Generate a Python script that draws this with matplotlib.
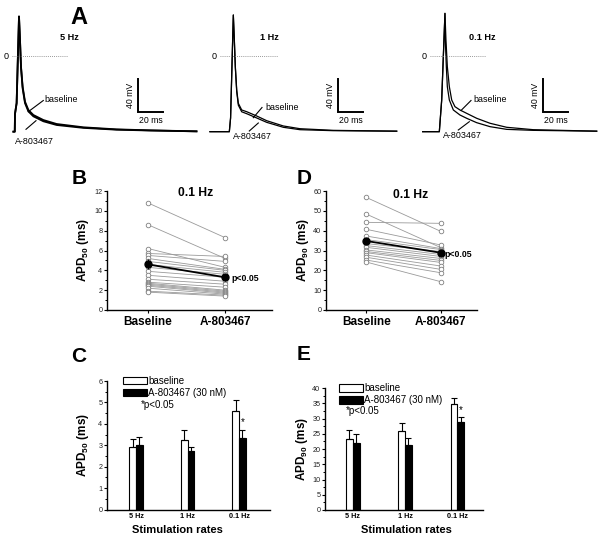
import matplotlib
matplotlib.use('Agg')
import matplotlib.pyplot as plt
from matplotlib.lines import Line2D
from matplotlib.patches import Patch
from matplotlib.ticker import MultipleLocator

plt.rcParams['font.family'] = ['Liberation Sans', 'DejaVu Sans']
plt.rcParams['mathtext.fontset'] = 'custom'
plt.rcParams['mathtext.rm'] = 'Liberation Sans'
plt.rcParams['mathtext.bf'] = 'Liberation Sans:bold'

# ---------------- data ----------------
# Panel A: action potentials (time in ms from upstroke, membrane potential in mV)
A_rates = ['5 Hz', '1 Hz', '0.1 Hz']
t5_base = [-0.5, 0.6, 0.8, 2.1, 4.0, 4.8, 5.6, 6.9, 8.8, 11.5, 15.5, 23.5, 34.1, 55.5, 82.0, 109.0, 146.0]
v5_base = [-91.6, -91.6, -70, -57, 48, 19.5, -12.8, -37, -55.2, -65.3, -71.4, -77.5, -82.3, -86.3, -88.8, -90.0, -91.2]
t5_drug = [-0.5, 0.6, 0.8, 2.1, 4.0, 4.8, 5.6, 6.9, 8.8, 11.5, 15.5, 23.5, 34.1, 55.5, 82.0, 109.0, 146.0]
v5_drug = [-91.6, -91.6, -70, -57, 48, 19.5, -13.5, -39, -57.0, -67.0, -73.0, -79.0, -83.5, -87.0, -89.2, -90.2, -91.2]

t1_base = [-15.5, 0, 1.0, 3.2, 4.0, 4.8, 5.9, 7.2, 9.9, 13.9, 21.9, 29.9, 43.2, 56.5, 83.2, 133.9]
v1_base = [-91.6, -91.6, -75, 49.8, 19.5, -12.8, -41, -57.2, -65.3, -67.4, -72.6, -78.3, -84.7, -88.0, -90.0, -91.0]
t1_drug = [-15.5, 0, 1.0, 3.2, 4.0, 4.8, 5.9, 7.2, 9.9, 13.9, 21.9, 29.9, 43.2, 56.5, 83.2, 133.9]
v1_drug = [-91.6, -91.6, -75, 49.8, 19.5, -13.5, -43, -59.5, -67.5, -69.8, -75.0, -80.3, -86.3, -89.2, -90.4, -91.0]

t01_base = [-13.3, 0, 1.9, 4.5, 5.3, 6.4, 8.0, 9.9, 12.5, 16.5, 21.9, 29.9, 40.5, 53.9, 75.2, 125.9]
v01_base = [-91.6, -91.6, -53, 51.8, 19.5, -12.8, -37, -53.2, -61.3, -65.3, -69.4, -75.4, -81.4, -86.3, -89.2, -91.0]
t01_drug = [-13.3, 0, 1.9, 4.5, 4.8, 5.6, 6.4, 8.0, 11.2, 16.5, 21.9, 29.9, 40.5, 53.9, 75.2, 125.9]
v01_drug = [-91.6, -91.6, -53, 51.8, 19.5, -12.8, -37, -53.2, -65.3, -71.4, -75.4, -80.7, -85.5, -88.8, -90.0, -91.0]

# Panels B / D: paired cells at 0.1 Hz
pair_groups = ['Baseline', 'A-803467']
B_base = [10.8, 8.6, 6.2, 5.7, 5.5, 5.2, 4.9, 4.6, 4.3, 3.9, 3.5, 3.1, 2.8, 2.7, 2.6, 2.5, 2.4, 2.2, 1.9, 1.8]
B_drug = [7.3, 5.2, 4.3, 5.4, 4.9, 4.1, 4.0, 3.8, 3.6, 3.3, 2.9, 2.6, 2.3, 2.0, 1.9, 1.8, 1.7, 1.6, 1.5, 1.4]
B_mean = [4.6, 3.3]
B_sem = [0.5, 0.35]

D_base = [56.8, 48.4, 44.2, 40.7, 37.3, 35.5, 33.5, 32.5, 31.6, 30.3, 29.5, 28.9, 27.7, 26.6, 25.2, 24.2]
D_drug = [39.7, 31.5, 43.7, 32.8, 31.0, 30.5, 29.5, 28.0, 27.0, 26.0, 25.0, 24.0, 22.2, 20.5, 18.8, 14.3]
D_mean = [34.8, 28.9]
D_sem = [1.7, 1.4]

# Panels C / E: bar charts
rates = ['5 Hz', '1 Hz', '0.1 Hz']
C_base = [2.94, 3.25, 4.61]
C_base_err = [0.37, 0.48, 0.50]
C_drug = [3.03, 2.72, 3.33]
C_drug_err = [0.36, 0.20, 0.40]
E_base = [23.4, 25.8, 34.75]
E_base_err = [2.8, 2.6, 2.05]
E_drug = [22.0, 21.2, 28.75]
E_drug_err = [2.9, 2.3, 1.65]
legend_labels = ['baseline', 'A-803467 (30 nM)']

# ---------------- layout helpers ----------------
W, H = 604, 541
fig = plt.figure(figsize=(W / 100, H / 100), dpi=100)


def ax_px(l, t, r, b):
    return fig.add_axes([l / W, 1 - b / H, (r - l) / W, (b - t) / H])


def ftxt(x, y, s, **kw):
    kw.setdefault('ha', 'left')
    kw.setdefault('va', 'center')
    return fig.text(x / W, 1 - y / H, s, **kw)


def fline(x1, y1, x2, y2, **kw):
    fig.add_artist(Line2D([x1 / W, x2 / W], [1 - y1 / H, 1 - y2 / H],
                          transform=fig.transFigure, color='k', lw=kw.get('lw', 0.8)))


# ---------------- Panel A ----------------
PX_PER_MS = 1.25
PX_PER_MV = 0.825
REST_MV = -92.0
REST_PX = 132.0
traces = [(t5_base, v5_base, t5_drug, v5_drug),
          (t1_base, v1_base, t1_drug, v1_drug),
          (t01_base, v01_base, t01_drug, v01_drug)]
ax_left = [0, 200, 400]
foot_px = [14.0, 229.33, 439.33]
zero_span = [(-1.6, 43.4), (-7.5, 39.0), (-7.5, 37.3)]
sbar_t = [99.5, 87.2, 83.2]
lws = [1.3, 0.9, 0.9]
for i in range(3):
    ax = ax_px(ax_left[i], 0, ax_left[i] + 200, 160)
    ax.set_xlim((ax_left[i] - foot_px[i]) / PX_PER_MS, (ax_left[i] + 200 - foot_px[i]) / PX_PER_MS)
    ax.set_ylim(REST_MV - (160 - REST_PX) / PX_PER_MV, REST_MV + REST_PX / PX_PER_MV)
    ax.axis('off')
    tb, vb, td, vd = traces[i]
    ax.plot(td, vd, color='k', lw=lws[i], solid_joinstyle='round')
    ax.plot(tb, vb, color='k', lw=lws[i], solid_joinstyle='round')
    ax.plot(zero_span[i], [0, 0], color='#777777', lw=0.6, ls=(0, (1, 1.5)))
    s = sbar_t[i]
    ax.plot([s, s, s + 20], [-27.4, -67.4, -67.4], color='k', lw=1.4, solid_joinstyle='miter')
    ax.text(zero_span[i][0] - 2.5, 0, '0', fontsize=6.5, ha='right', va='center')
    ax.text(s - 2.5, -47.4, '40 mV', fontsize=6.3, rotation=90, ha='right', va='center')
    ax.text(s + 10, -73, '20 ms', fontsize=6.3, ha='center', va='top')

ftxt(79, 17, 'A', fontsize=17, fontweight='bold', ha='center')
ftxt(69, 37, A_rates[0], fontsize=6.6, fontweight='bold', ha='center')
ftxt(269, 37, A_rates[1], fontsize=6.6, fontweight='bold', ha='center')
ftxt(482, 37, A_rates[2], fontsize=6.6, fontweight='bold', ha='center')

# trace labels + pointers
ftxt(44, 99.5, 'baseline', fontsize=6.4)
fline(43.3, 100.5, 28.3, 111.7)
ftxt(15, 141, 'A-803467', fontsize=6.4)
fline(26, 129.3, 36, 120.7)
ftxt(265, 107, 'baseline', fontsize=6.4)
fline(262, 107.5, 253.3, 117.7)
ftxt(233, 136.5, 'A-803467', fontsize=6.4)
fline(249.3, 131, 258.3, 123)
ftxt(473, 99.5, 'baseline', fontsize=6.4)
fline(471, 100.5, 461, 110.5)
ftxt(443, 135.5, 'A-803467', fontsize=6.4)
fline(458.3, 130, 469.3, 121.7)


# ---------------- Panels B / D ----------------
def style_axis(ax, major, minor):
    for sp in ['top', 'right']:
        ax.spines[sp].set_visible(False)
    for sp in ['left', 'bottom']:
        ax.spines[sp].set_linewidth(1.0)
    ax.yaxis.set_major_locator(MultipleLocator(major))
    ax.yaxis.set_minor_locator(MultipleLocator(minor))
    ax.tick_params(axis='y', which='major', length=2.2, width=0.8, pad=1.2, labelsize=5.2, labelcolor='#222222')
    ax.tick_params(axis='y', which='minor', length=1.2, width=0.7)


def paired(ax, base, drug, mean, sem, ymax, major, minor):
    for b, d in zip(base, drug):
        ax.plot([0, 1], [b, d], color='#9a9a9a', lw=0.6, zorder=1)
    ax.plot([0] * len(base), base, 'o', mfc='white', mec='#808080', ms=3.3, mew=0.6, zorder=2, clip_on=False)
    ax.plot([1] * len(drug), drug, 'o', mfc='white', mec='#808080', ms=3.3, mew=0.6, zorder=2, clip_on=False)
    ax.errorbar([0, 1], mean, yerr=sem, fmt='-o', color='k', ms=5, lw=1.3, elinewidth=1.0, capsize=0, zorder=3)
    ax.set_ylim(0, ymax)
    style_axis(ax, major, minor)
    ax.set_xticks([0, 1])
    ax.set_xticklabels(pair_groups, fontsize=8.5, fontweight='bold')
    ax.tick_params(axis='x', length=2, width=0.8, pad=2.5)


axB = ax_px(107, 191, 272, 310)
paired(axB, B_base, B_drug, B_mean, B_sem, 12, 2, 1)
axB.set_xlim(-0.532, 1.61)
axD = ax_px(326, 191, 477, 310)
paired(axD, D_base, D_drug, D_mean, D_sem, 60, 10, 5)
axD.set_xlim(-0.54, 1.49)

ftxt(195.5, 193.5, '0.1 Hz', fontsize=8.7, fontweight='bold', ha='center')
ftxt(410.5, 194.5, '0.1 Hz', fontsize=8.7, fontweight='bold', ha='center')
ftxt(231, 278.5, 'p<0.05', fontsize=6.3, fontweight='bold')
ftxt(444.5, 254.5, 'p<0.05', fontsize=6.3, fontweight='bold')
ftxt(83, 250.5, r'APD$_{\mathbf{50}}$ (ms)', fontsize=8.5, fontweight='bold', rotation=90, ha='center')
ftxt(303, 250.5, r'APD$_{\mathbf{90}}$ (ms)', fontsize=8.5, fontweight='bold', rotation=90, ha='center')
ftxt(79, 179, 'B', fontsize=15, fontweight='bold', ha='center')
ftxt(304, 179, 'D', fontsize=15, fontweight='bold', ha='center')


# ---------------- Panels C / E ----------------
def bars(ax, base, berr, drug, derr, ymax, major, minor):
    w = 0.13
    x = list(range(len(rates)))
    ax.bar([i - w / 2 for i in x], base, w, color='white', edgecolor='k', lw=0.8,
           yerr=[[0] * 3, berr], error_kw=dict(ecolor='k', elinewidth=0.8, capsize=2.2, capthick=0.8))
    ax.bar([i + w / 2 for i in x], drug, w, color='black', edgecolor='k', lw=0.8,
           yerr=[[0] * 3, derr], error_kw=dict(ecolor='k', elinewidth=0.8, capsize=2.2, capthick=0.8))
    ax.annotate('*', (2 + w / 2, drug[2] + derr[2]), xytext=(0, 1.5), textcoords='offset points',
                ha='center', va='bottom', fontsize=7)
    ax.set_ylim(0, ymax)
    style_axis(ax, major, minor)
    ax.set_xticks(x)
    ax.set_xticklabels(rates, fontsize=5.2, fontweight='bold')
    ax.tick_params(axis='x', length=0, pad=2.5)
    handles = [Patch(facecolor='white', edgecolor='k', lw=0.8), Patch(facecolor='black', edgecolor='k', lw=0.8)]
    return handles


axC = ax_px(107, 381, 270, 509.5)
hC = bars(axC, C_base, C_base_err, C_drug, C_drug_err, 6, 1, 0.5)
axC.set_xlim(-0.563, 2.6)
axC.legend(hC, legend_labels, loc='upper left', bbox_to_anchor=(0.1, 1.04), frameon=False, fontsize=7,
           handlelength=2.4, handleheight=0.85, handletextpad=0.15, labelspacing=0.2, borderpad=0, borderaxespad=0)
axE = ax_px(325, 388, 483, 510)
hE = bars(axE, E_base, E_base_err, E_drug, E_drug_err, 40, 5, 2.5)
axE.set_xlim(-0.53, 2.49)
axE.legend(hE, legend_labels, loc='upper left', bbox_to_anchor=(0.09, 1.04), frameon=False, fontsize=7,
           handlelength=2.4, handleheight=0.85, handletextpad=0.15, labelspacing=0.2, borderpad=0, borderaxespad=0)

ftxt(140.5, 405, '*p<0.05', fontsize=7)
ftxt(346, 411.5, '*p<0.05', fontsize=7)
ftxt(177.5, 530, 'Stimulation rates', fontsize=8, fontweight='bold', ha='center')
ftxt(406.5, 530, 'Stimulation rates', fontsize=8, fontweight='bold', ha='center')
ftxt(83, 445, r'APD$_{\mathbf{50}}$ (ms)', fontsize=8.5, fontweight='bold', rotation=90, ha='center')
ftxt(302, 449, r'APD$_{\mathbf{90}}$ (ms)', fontsize=8.5, fontweight='bold', rotation=90, ha='center')
ftxt(79, 357, 'C', fontsize=15, fontweight='bold', ha='center')
ftxt(304, 355, 'E', fontsize=15, fontweight='bold', ha='center')

fig.savefig('out.png', dpi=100)
